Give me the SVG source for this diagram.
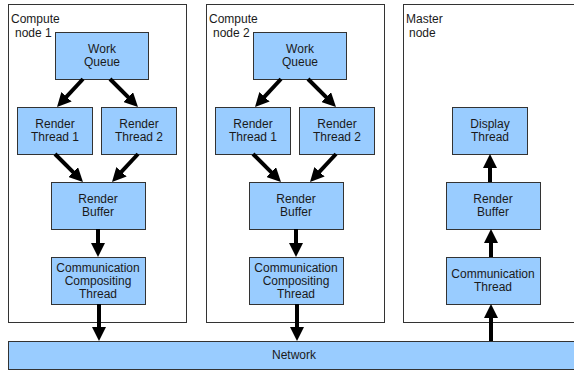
<svg xmlns="http://www.w3.org/2000/svg" width="574" height="371" viewBox="0 0 574 371">
<defs>
<marker id="ah" markerUnits="userSpaceOnUse" markerWidth="14" markerHeight="14" refX="4" refY="7" orient="auto" viewBox="0 0 14 14">
<path d="M0,0 L14,7 L0,14 z" fill="#000"/>
</marker>
<style>
.grp{fill:#fff;stroke:#333;stroke-width:1}
.box{fill:#99ccff;stroke:#333;stroke-width:1}
text{font-family:"Liberation Sans",Arial,sans-serif;font-size:12px;fill:#1a1a1a}
.c{text-anchor:middle}
.con path{stroke:#000;stroke-width:4;fill:none;marker-end:url(#ah)}
</style>
</defs>
<rect width="574" height="371" fill="#fff"/>
<g id="compute1">
<rect class="grp" x="8.5" y="4.5" width="178" height="318"/>
<text x="11" y="23">Compute</text>
<text x="15" y="37">node 1</text>
</g>
<g id="compute2">
<rect class="grp" x="206.5" y="4.5" width="178" height="318"/>
<text x="209" y="23">Compute</text>
<text x="213" y="37">node 2</text>
</g>
<g id="master">
<rect class="grp" x="403.5" y="4.5" width="200" height="318"/>
<text x="406" y="23">Master</text>
<text x="409" y="37">node</text>
</g>
<g id="wq1"><rect class="box" x="55.5" y="32.5" width="93" height="47"/><text class="c" x="102" y="53">Work</text><text class="c" x="102" y="66">Queue</text></g>
<g id="rt1a"><rect class="box" x="17.5" y="107.5" width="75" height="47"/><text class="c" x="55" y="128">Render</text><text class="c" x="55" y="141">Thread 1</text></g>
<g id="rt1b"><rect class="box" x="101.5" y="107.5" width="75" height="47"/><text class="c" x="139" y="128">Render</text><text class="c" x="139" y="141">Thread 2</text></g>
<g id="rb1"><rect class="box" x="51.5" y="182.5" width="94" height="47"/><text class="c" x="98" y="203">Render</text><text class="c" x="98" y="216">Buffer</text></g>
<g id="cct1"><rect class="box" x="51.5" y="257.5" width="94" height="47"/><text class="c" x="98" y="272">Communication</text><text class="c" x="98" y="285">Compositing</text><text class="c" x="98" y="298">Thread</text></g>
<g id="wq2"><rect class="box" x="253.5" y="32.5" width="93" height="47"/><text class="c" x="300" y="53">Work</text><text class="c" x="300" y="66">Queue</text></g>
<g id="rt2a"><rect class="box" x="215.5" y="107.5" width="75" height="47"/><text class="c" x="253" y="128">Render</text><text class="c" x="253" y="141">Thread 1</text></g>
<g id="rt2b"><rect class="box" x="299.5" y="107.5" width="75" height="47"/><text class="c" x="337" y="128">Render</text><text class="c" x="337" y="141">Thread 2</text></g>
<g id="rb2"><rect class="box" x="249.5" y="182.5" width="94" height="47"/><text class="c" x="296" y="203">Render</text><text class="c" x="296" y="216">Buffer</text></g>
<g id="cct2"><rect class="box" x="249.5" y="257.5" width="94" height="47"/><text class="c" x="296" y="272">Communication</text><text class="c" x="296" y="285">Compositing</text><text class="c" x="296" y="298">Thread</text></g>
<g id="dt"><rect class="box" x="452.5" y="107.5" width="75" height="47"/><text class="c" x="490" y="128">Display</text><text class="c" x="490" y="141">Thread</text></g>
<g id="rbm"><rect class="box" x="446.5" y="182.5" width="94" height="47"/><text class="c" x="493" y="203">Render</text><text class="c" x="493" y="216">Buffer</text></g>
<g id="ctm"><rect class="box" x="446.5" y="257.5" width="94" height="47"/><text class="c" x="493" y="278">Communication</text><text class="c" x="493" y="291">Thread</text></g>
<g id="network"><rect class="box" x="8.5" y="341.5" width="580" height="28"/><text class="c" x="294" y="359">Network</text></g>
<g id="connectors" class="con">
<path d="M83,79 L63.8,99.7"/>
<path d="M110,79 L130.9,99.9"/>
<path d="M55,154 L75.9,174.9"/>
<path d="M138,154 L118.8,174.7"/>
<path d="M98,229 L98,247"/>
<path d="M99,304 L99,331"/>
<path d="M281,79 L261.8,99.7"/>
<path d="M308,79 L328.9,99.9"/>
<path d="M253,154 L273.9,174.9"/>
<path d="M336,154 L316.8,174.7"/>
<path d="M296,229 L296,247"/>
<path d="M297,304 L297,331"/>
<path d="M491,341 L491,314"/>
<path d="M491,257 L491,239"/>
<path d="M490,182 L490,164"/>
</g>
</svg>
